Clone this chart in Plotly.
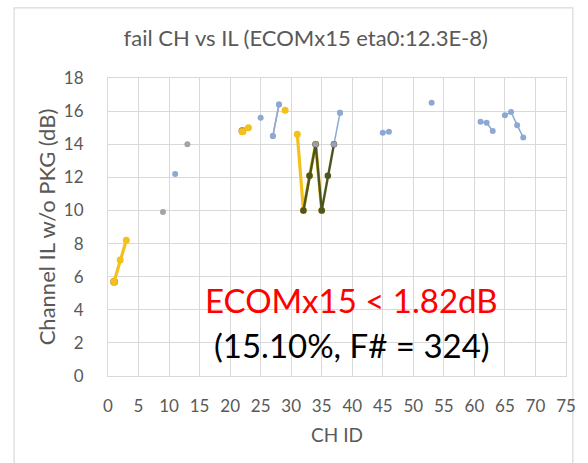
import plotly.graph_objects as go

# Channel IL (dB) of failing channels, grouped by marker series; None breaks a line
blue_x = [11, None, 25, None, 27, 28, None, 37, 38, None, 45, 46, None, 53, None, 61, 62, 63, None, 65, 66, 67, 68]
blue_y = [12.2, None, 15.6, None, 14.5, 16.4, None, 14.0, 15.9, None, 14.7, 14.75, None, 16.5, None, 15.35, 15.3, 14.8, None, 15.75, 15.95, 15.15, 14.4]

grey_x = [9, None, 13, None, 27, 28, None, 34, None, 38]
grey_y = [9.9, None, 14.0, None, 14.5, 16.4, None, 14.0, None, 15.9]

gold_x = [1, None, 22]
gold_y = [5.7, None, 14.8]

yellow_x = [1, 2, 3, None, 22, 23, None, 29, None, 31, 32, 33, 34, 35]
yellow_y = [5.7, 7.0, 8.2, None, 14.75, 15.0, None, 16.05, None, 14.6, 10.0, 12.1, 14.0, 10.0]

olive_x = [32, 33, 34, 35, 36, 37]
olive_y = [10.0, 12.1, 14.0, 10.0, 12.1, 14.0]

x_ticks = list(range(0, 80, 5))
y_ticks = list(range(0, 20, 2))

FONT = "Lato, 'Open Sans', sans-serif"
GRID = "#D9D9D9"
TXT = "#595959"

fig = go.Figure()

def add_series(xs, ys, color, lw, ms):
    fig.add_trace(go.Scatter(
        x=xs, y=ys, mode="lines+markers", connectgaps=False,
        line=dict(color=color, width=lw),
        marker=dict(color=color, size=ms, symbol="circle"),
        showlegend=False, hoverinfo="x+y",
    ))

add_series(grey_x, grey_y, "#A3A3AB", 1.5, 6)
add_series(blue_x, blue_y, "#8EA8D6", 1.5, 6)
add_series(gold_x, gold_y, "#C9952E", 2.5, 8)
add_series(yellow_x, yellow_y, "#F3C01C", 3.2, 7)
add_series(olive_x, olive_y, "#4A5520", 2.4, 6.5)
# highlight points on top of the olive zig-zag
add_series([34, None, 37], [14.0, None, 14.0], "#9C9CB4", 1, 6)

fig.add_annotation(x=39.9, y=4.6, xref="x", yref="y", text="ECOMx15 &lt; 1.82dB",
                   showarrow=False, font=dict(family=FONT, size=33, color="#FF0000"))
fig.add_annotation(x=39.9, y=1.85, xref="x", yref="y", text="(15.10%, F# = 324)",
                   showarrow=False, font=dict(family=FONT, size=33, color="#000000"))

# outer chart frame
fig.add_shape(type="rect", xref="paper", yref="paper",
              x0=-0.205, x1=1.015, y0=-0.35, y1=1.235,
              line=dict(color=GRID, width=1.2), layer="below")

fig.update_layout(
    width=588, height=463,
    margin=dict(l=108, r=12, t=78, b=87),
    paper_bgcolor="white", plot_bgcolor="white",
    font=dict(family=FONT, color=TXT),
    title=dict(text="fail CH vs IL (ECOMx15 eta0:12.3E-8)", x=0.52, xanchor="center",
               y=0.918, yanchor="middle", font=dict(family=FONT, size=22, color=TXT)),
    xaxis=dict(range=[0, 75], tickvals=x_ticks, ticktext=[str(v) for v in x_ticks],
               showgrid=True, gridcolor=GRID, gridwidth=1, zeroline=False,
               showline=True, linecolor=GRID, mirror=True,
               ticks="", tickfont=dict(size=17, color=TXT), ticklabelstandoff=15,
               title=dict(text="CH ID", font=dict(size=19, color=TXT), standoff=13)),
    yaxis=dict(range=[0, 18], tickvals=y_ticks, ticktext=[str(v) for v in y_ticks],
               showgrid=True, gridcolor=GRID, gridwidth=1, zeroline=False,
               showline=True, linecolor=GRID, mirror=True,
               ticks="", tickfont=dict(size=17, color=TXT), ticklabelstandoff=20,
               title=dict(text="Channel IL w/o PKG (dB)", font=dict(size=22, color=TXT), standoff=2)),
)

fig.write_html("out.html")
